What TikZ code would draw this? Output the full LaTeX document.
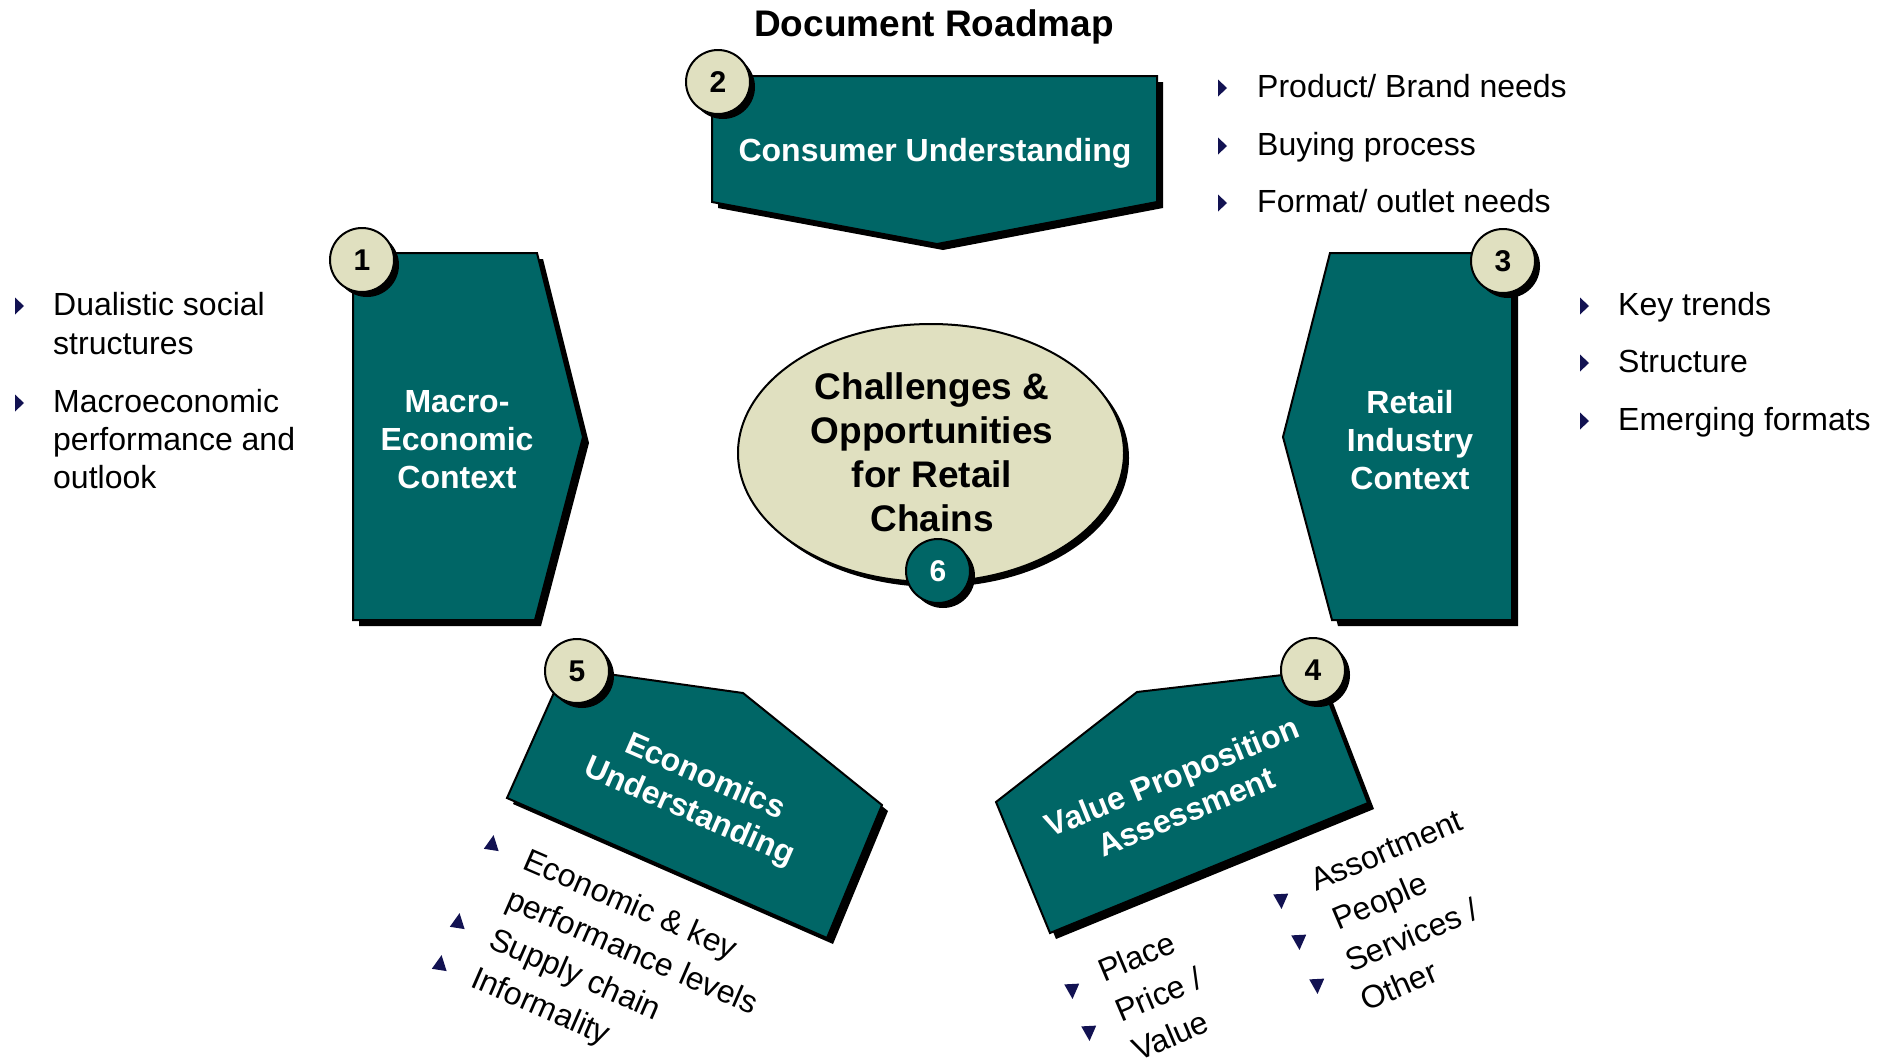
\documentclass[tikz,border=0pt]{standalone}
\usepackage{fontspec}
\setmainfont{Liberation Sans}
\definecolor{roadteal}{RGB}{0,102,102}
\definecolor{roadcream}{RGB}{224,224,192}
\definecolor{roadnavy}{RGB}{18,18,82}

% shadowed number badge: name, x, y, digit, extra style
\newcommand\roadbadge[5]{%
  \fill[black] (#2+5,#3+5) circle (32pt);
  \node[badge,#5] (#1) at (#2,#3) {#4};}
% small right-pointing bullet used in the side lists
\newcommand\sidebullet[2]{%
  \fill[roadnavy, shift={(#1,#2)}] (-4,-8.5) -- (5,0) -- (-4,8.5) -- cycle;}
% tilted bullet for the slanted lists: x, y, direction of the tip
\newcommand\tiltbullet[3]{%
  \fill[roadnavy, shift={(#1,#2)}, rotate=#3] (10,0) -- (-5,7.5) -- (-5,-7.5) -- cycle;}

\begin{document}
\begin{tikzpicture}[x=1pt,y=-1pt,
  panel/.style={fill=roadteal, draw=black, line width=2pt, line join=miter},
  drop/.style={fill=black},
  badge/.style={circle, fill=roadcream, draw=black, line width=2pt,
    minimum size=64pt, inner sep=0pt, font=\fontsize{30}{36}\selectfont\bfseries},
  paneltext/.style={text=white, align=center, inner sep=0pt,
    font=\fontsize{32}{38}\selectfont\bfseries},
  listtext/.style={anchor=base west, inner sep=0pt,
    font=\fontsize{32}{38}\selectfont},
]
\useasboundingbox (0,0) rectangle (1891,1058);

% outlines of the five panels
\def\panelA{(353,253) -- (537,253) -- (583,437) -- (535,620) -- (353,620) -- cycle}
\def\panelB{(712,76) -- (1157,76) -- (1157,202) -- (937,244) -- (712,202) -- cycle}
\def\panelC{(1330,253) -- (1512,253) -- (1512,620) -- (1332,620) -- (1283,437) -- cycle}
\def\panelD{(1317,671) -- (1368,803) -- (1050,933) -- (996,802) -- (1137,692) -- cycle}
\def\panelE{(565,668) -- (743,693) -- (882,805) -- (827,938) -- (507,798) -- cycle}

% title
\node[anchor=base, inner sep=0pt, font=\fontsize{37}{44}\selectfont\bfseries]
  (title) at (934,36) {Document Roadmap};

% panels with drop shadows
\foreach \p in {\panelA,\panelB,\panelC,\panelD,\panelE}{
  \fill[drop, shift={(6,6)}] \p;
  \filldraw[panel] \p;
}

% central ellipse
\fill[drop] (936,458) ellipse (193pt and 129pt);
\filldraw[fill=roadcream, draw=black, line width=2pt] (931,453) ellipse (193pt and 129pt);
\node[align=center, inner sep=0pt, font=\fontsize{37}{44}\selectfont\bfseries]
  (core) at (932,452) {Challenges \&\\Opportunities\\for Retail\\Chains};

% panel captions
\node[paneltext] (macro) at (457,440) {Macro-\\Economic\\Context};
\node[paneltext, anchor=base] (consumer) at (935,161.5) {Consumer Understanding};
\node[paneltext] (retail) at (1410,440) {Retail\\Industry\\Context};
\node[paneltext, rotate=22] (value) at (1179,794) {Value Proposition\\Assessment};
\node[paneltext, rotate=-23.5] (econ) at (697,795) {Economics\\Understanding};

% number badges
\roadbadge{n1}{362}{260}{1}{}
\roadbadge{n2}{718}{82}{2}{}
\roadbadge{n3}{1503}{261}{3}{}
\roadbadge{n4}{1313}{670}{4}{}
\roadbadge{n5}{577}{671}{5}{}
\roadbadge{n6}{938}{571}{6}{fill=roadteal, text=white}

% list beside panel 1
\sidebullet{19}{306}
\sidebullet{19}{403}
\node[listtext] (a1) at (53,315) {Dualistic social};
\node[listtext] (a2) at (53,354) {structures};
\node[listtext] (a3) at (53,412) {Macroeconomic};
\node[listtext] (a4) at (53,450) {performance and};
\node[listtext] (a5) at (53,488) {outlook};

% list beside panel 2
\sidebullet{1222}{88}
\sidebullet{1222}{146}
\sidebullet{1222}{203}
\node[listtext] (b1) at (1257,97) {Product/ Brand needs};
\node[listtext] (b2) at (1257,155.5) {Buying process};
\node[listtext] (b3) at (1257,212) {Format/ outlet needs};

% list beside panel 3
\sidebullet{1584}{306}
\sidebullet{1584}{363}
\sidebullet{1584}{421}
\node[listtext] (c1) at (1618,315) {Key trends};
\node[listtext] (c2) at (1618,372) {Structure};
\node[listtext] (c3) at (1618,430.5) {Emerging formats};

% slanted lists under panel 4
\tiltbullet{1072}{989}{-87}
\tiltbullet{1089}{1031}{-87}
\node[listtext, rotate=23] (d1) at (1104,983) {Place};
\node[listtext, rotate=23] (d2) at (1121,1023) {Price /};
\node[listtext, rotate=23] (d3) at (1138,1062) {Value};
\tiltbullet{1281}{899}{-87}
\tiltbullet{1299}{940}{-87}
\tiltbullet{1317}{984}{-87}
\node[listtext, rotate=23] (e1) at (1316,892) {Assortment};
\node[listtext, rotate=23] (e2) at (1338,931) {People};
\node[listtext, rotate=23] (e3) at (1351,973) {Services /};
\node[listtext, rotate=23] (e4) at (1366,1012) {Other};

% slanted list under panel 5
\tiltbullet{492}{845}{81}
\tiltbullet{458}{923}{81}
\tiltbullet{440}{965}{81}
\node[listtext, rotate=-23.5] (f1) at (521,868) {Economic \& key};
\node[listtext, rotate=-23.5] (f2) at (504,907) {performance levels};
\node[listtext, rotate=-23.5] (f3) at (487,947) {Supply chain};
\node[listtext, rotate=-23.5] (f4) at (469,986) {Informality};
\end{tikzpicture}
\end{document}
